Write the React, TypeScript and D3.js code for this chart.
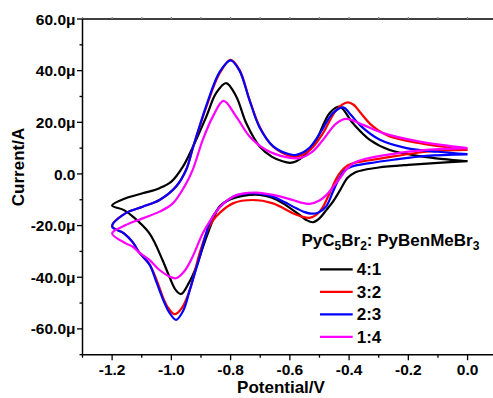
import React from "react";
import * as d3 from "d3";

type Pt = [number, number];

// Cyclic voltammograms: potential (V), current (µA).
// Each loop runs 0 V → -1.2 V (cathodic branch) and back to 0 V (anodic branch).
const cv41: Pt[] = [
  [0, 5.0], [-0.1, 4.3], [-0.2, 3.5], [-0.3, 2.5], [-0.34, 1.8], [-0.38, 0.6],
  [-0.405, -1.5], [-0.43, -6.2], [-0.455, -10.8], [-0.477, -14], [-0.5, -17.2],
  [-0.522, -18.7], [-0.545, -17.8], [-0.567, -15.9], [-0.623, -11.4], [-0.66, -9.2],
  [-0.702, -8.1], [-0.759, -8.5], [-0.8, -9.8], [-0.837, -12.5], [-0.86, -18],
  [-0.877, -23], [-0.894, -28.5], [-0.916, -36], [-0.94, -42], [-0.967, -46.5],
  [-0.985, -45], [-1.006, -40], [-1.03, -33.3], [-1.074, -23], [-1.13, -16.5],
  [-1.16, -14], [-1.2, -12.2],
  [-1.154, -9.4], [-1.097, -7.5], [-1.04, -5.5], [-1.0, -3.0], [-0.961, 2.8],
  [-0.928, 10.3], [-0.882, 22.2], [-0.849, 31.3], [-0.815, 35.2], [-0.781, 30],
  [-0.747, 19.6], [-0.702, 10.6], [-0.66, 6.6], [-0.625, 4.9], [-0.6, 4.3],
  [-0.578, 4.9], [-0.555, 6.8], [-0.53, 9.8], [-0.51, 13.2], [-0.466, 23.5],
  [-0.432, 26.1], [-0.387, 19.6], [-0.33, 13.2], [-0.263, 9.3], [-0.15, 6.7],
  [0, 4.9],
];

const cv32: Pt[] = [
  [0, 9.3], [-0.139, 8.6], [-0.25, 6.8], [-0.33, 5.3], [-0.38, 4.4], [-0.405, 3.3],
  [-0.425, 1.2], [-0.443, -1.8], [-0.462, -6.5], [-0.488, -12.7], [-0.51, -15.8],
  [-0.533, -17.0], [-0.56, -16.5], [-0.59, -15.2], [-0.657, -11.4], [-0.725, -10.1],
  [-0.792, -11.4], [-0.849, -16.5], [-0.875, -21], [-0.904, -30.5], [-0.938, -45],
  [-0.965, -52], [-0.989, -54.3], [-1.01, -52], [-1.029, -47.6], [-1.05, -41],
  [-1.074, -35], [-1.108, -30.5], [-1.13, -26.5], [-1.16, -23], [-1.2, -20.2],
  [-1.154, -15.2], [-1.097, -12.7], [-1.04, -10.1], [-0.984, -4.9], [-0.95, 1.6],
  [-0.925, 11], [-0.882, 26], [-0.837, 39], [-0.8, 44.2], [-0.77, 40.3],
  [-0.736, 28.7], [-0.702, 18.3], [-0.657, 10.6], [-0.601, 7.0], [-0.578, 6.7],
  [-0.53, 9.5], [-0.488, 15.8], [-0.443, 24.8], [-0.405, 27.7], [-0.385, 26.8],
  [-0.36, 23.5], [-0.33, 19.5], [-0.3, 16.8], [-0.263, 14.5], [-0.161, 11.9],
  [0, 9.3],
];

const cv23: Pt[] = [
  [0, 7.6], [-0.139, 7.0], [-0.25, 5.5], [-0.33, 4.2], [-0.39, 2.9], [-0.415, 1.3],
  [-0.435, -2], [-0.455, -7], [-0.477, -12.5], [-0.505, -15], [-0.527, -15.4],
  [-0.55, -14.8], [-0.578, -13.3], [-0.62, -10.8], [-0.657, -8.8], [-0.713, -7.5],
  [-0.76, -7.8], [-0.792, -8.8], [-0.849, -14.5], [-0.871, -19], [-0.904, -32],
  [-0.938, -45], [-0.96, -53], [-0.984, -56.5], [-1.005, -54], [-1.023, -50],
  [-1.05, -42], [-1.074, -35], [-1.108, -30.5], [-1.13, -26.5], [-1.16, -23],
  [-1.2, -20.4],
  [-1.154, -15.2], [-1.097, -12.7], [-1.04, -10.1], [-0.984, -4.9], [-0.95, 1.6],
  [-0.925, 11], [-0.882, 26.5], [-0.837, 39.5], [-0.8, 44], [-0.77, 40],
  [-0.736, 28.5], [-0.702, 18], [-0.657, 10.8], [-0.601, 7.6], [-0.578, 7.4],
  [-0.535, 10], [-0.497, 16], [-0.455, 23.5], [-0.42, 25.8], [-0.395, 23],
  [-0.36, 18.5], [-0.296, 13.2], [-0.206, 10], [-0.1, 8.6], [0, 7.7],
];

const cv14: Pt[] = [
  [0, 10], [-0.139, 9.3], [-0.25, 7.8], [-0.33, 6.2], [-0.37, 5], [-0.39, 3.8],
  [-0.41, 1.6], [-0.43, -1.5], [-0.454, -5], [-0.477, -8.2], [-0.5, -10.3],
  [-0.533, -11.6], [-0.565, -11], [-0.59, -10.1], [-0.657, -8.1], [-0.713, -7.2],
  [-0.76, -7.6], [-0.792, -8.8], [-0.83, -12], [-0.86, -16.5], [-0.894, -23],
  [-0.928, -32], [-0.955, -37.5], [-0.984, -40.4], [-1.01, -39.5], [-1.04, -37.2],
  [-1.074, -33.3], [-1.108, -30.5], [-1.13, -28.2], [-1.154, -26.9], [-1.2, -23],
  [-1.154, -19.8], [-1.097, -17.2], [-1.04, -14.6], [-0.995, -11.4], [-0.956, -4.9],
  [-0.928, 1.6], [-0.894, 13.2], [-0.86, 22.2], [-0.824, 28.3], [-0.781, 22.2],
  [-0.736, 14.5], [-0.68, 9.3], [-0.612, 6.5], [-0.567, 6.1], [-0.525, 8.5],
  [-0.488, 13.2], [-0.443, 19.6], [-0.409, 21.3], [-0.353, 19], [-0.285, 15.8],
  [-0.161, 12.5], [0, 10],
];

const ratioLabels = ["4:1", "3:2", "2:3", "1:4"];
const seriesColors = ["#000000", "#ff0000", "#0000ff", "#ff00ff"];
const seriesData = [cv41, cv32, cv23, cv14];

const xMajorTicks = [-1.2, -1.0, -0.8, -0.6, -0.4, -0.2, 0.0];
const xMinorTicks = [-1.3, -1.1, -0.9, -0.7, -0.5, -0.3, -0.1];
const yMajorTicks = [-60, -40, -20, 0, 20, 40, 60];
const yMinorTicks = [-70, -50, -30, -10, 10, 30, 50];

const W = 493;
const H = 398;
const FONT = "'Liberation Sans', Arial, sans-serif";

const x = d3.scaleLinear().domain([-1.3, 0.1]).range([82.5, 497.2]);
const y = d3.scaleLinear().domain([-70, 60]).range([354.7, 19]);

const line = d3
  .line<Pt>()
  .x((d) => x(d[0]))
  .y((d) => y(d[1]))
  .curve(d3.curveCatmullRom.alpha(0.5));

const fmtY = (v: number) => (v === 0 ? "0.0" : `${v.toFixed(1)}μ`);
const fmtX = (v: number) => v.toFixed(1);

export default function App() {
  const left = x.range()[0];
  const bottom = y.range()[0];
  const top = y.range()[1];
  const legendX0 = 320;
  const legendX1 = 352.7;
  const legendY0 = 269.3;
  const legendStep = 22.5;

  return (
    <svg
      width={W}
      height={H}
      viewBox={`0 0 ${W} ${H}`}
      style={{ position: "absolute", left: 0, top: 0, background: "#fff" }}
      fontFamily={FONT}
    >
      <rect x={0} y={0} width={W} height={H} fill="#fff" />

      {/* curves */}
      <g fill="none" strokeWidth={2.2} strokeLinejoin="round">
        {seriesData.map((d, i) => (
          <path key={ratioLabels[i]} d={line(d) ?? ""} stroke={seriesColors[i]} />
        ))}
      </g>

      {/* frame */}
      <g stroke="#000" strokeWidth={1.5} fill="none">
        <line x1={left} x2={W} y1={top} y2={top} />
        <line x1={left} x2={W} y1={bottom} y2={bottom} />
        <line x1={left} x2={left} y1={top} y2={bottom} />
      </g>

      {/* x ticks */}
      <g stroke="#000" strokeWidth={1.3}>
        {xMajorTicks.map((v) => (
          <line key={`xM${v}`} x1={x(v)} x2={x(v)} y1={bottom} y2={bottom + 5.5} />
        ))}
        {xMinorTicks.map((v) => (
          <line key={`xm${v}`} x1={x(v)} x2={x(v)} y1={bottom} y2={bottom + 3} />
        ))}
        {[...xMajorTicks, ...xMinorTicks].map((v) => (
          <line key={`xt${v}`} x1={x(v)} x2={x(v)} y1={top} y2={top - 2} stroke="#888" />
        ))}
      </g>
      <g fontSize={15.5} fontWeight="bold" textAnchor="middle">
        {xMajorTicks.map((v) => (
          <text key={`xl${v}`} x={x(v)} y={374.5}>
            {fmtX(v)}
          </text>
        ))}
      </g>

      {/* y ticks */}
      <g stroke="#000" strokeWidth={1.3}>
        {yMajorTicks.map((v) => (
          <line key={`yM${v}`} x1={left - 5.5} x2={left} y1={y(v)} y2={y(v)} />
        ))}
        {yMinorTicks.map((v) => (
          <line key={`ym${v}`} x1={left - 3} x2={left} y1={y(v)} y2={y(v)} />
        ))}
      </g>
      <g fontSize={15.5} fontWeight="bold" textAnchor="end">
        {yMajorTicks.map((v) => (
          <text key={`yl${v}`} x={75.5} y={y(v)} dy="0.36em">
            {fmtY(v)}
          </text>
        ))}
      </g>

      {/* axis titles */}
      <text x={281} y={393} fontSize={17} fontWeight="bold" textAnchor="middle">
        Potential/V
      </text>
      <text
        transform={`translate(23.5,167) rotate(-90)`}
        fontSize={17}
        fontWeight="bold"
        textAnchor="middle"
      >
        Current/A
      </text>

      {/* legend */}
      <text x={301.5} y={246} fontSize={17} fontWeight="bold">
        PyC
        <tspan fontSize={12} dy={4}>5</tspan>
        <tspan dy={-4}>Br</tspan>
        <tspan fontSize={12} dy={4}>2</tspan>
        <tspan dy={-4}>: PyBenMeBr</tspan>
        <tspan fontSize={12} dy={4}>3</tspan>
      </text>
      {ratioLabels.map((lab, i) => {
        const ly = legendY0 + i * legendStep;
        return (
          <g key={`lg${lab}`}>
            <line x1={legendX0} x2={legendX1} y1={ly} y2={ly} stroke={seriesColors[i]} strokeWidth={2.2} />
            <text x={legendX1 + 4} y={ly} dy="0.36em" fontSize={17} fontWeight="bold">
              {lab}
            </text>
          </g>
        );
      })}
    </svg>
  );
}
